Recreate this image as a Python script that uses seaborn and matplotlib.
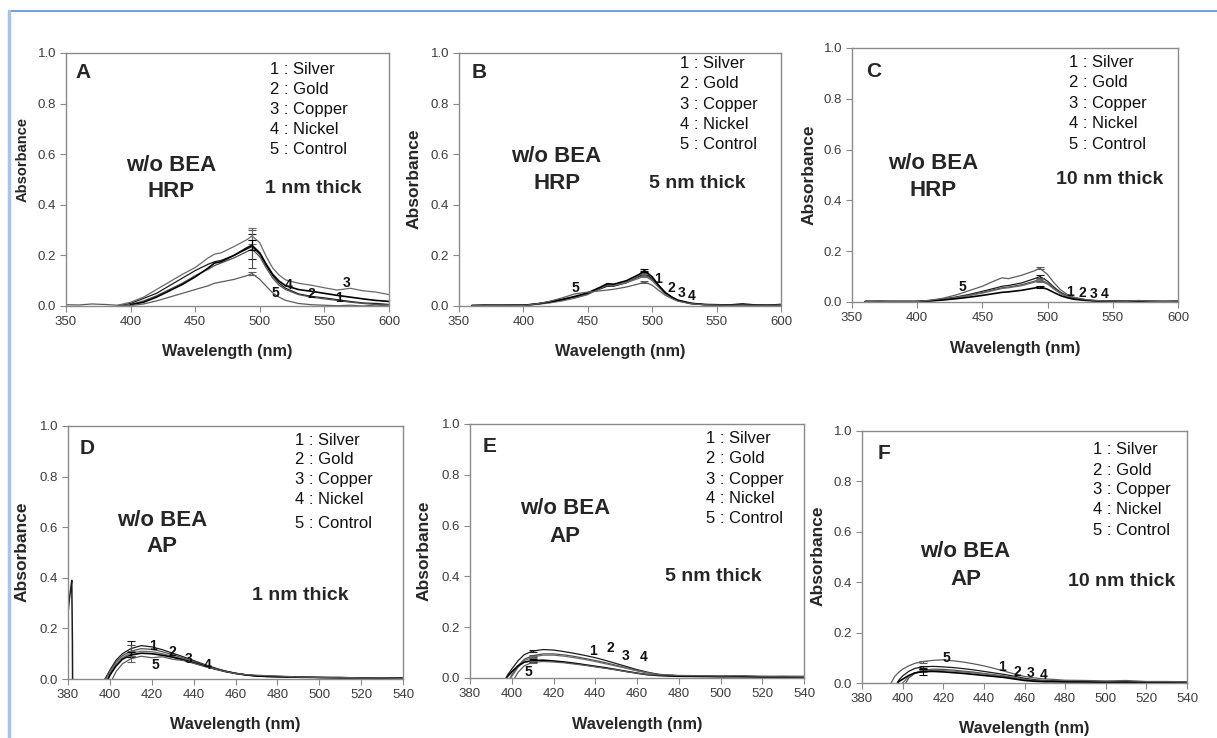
import numpy as np
import pandas as pd
import matplotlib
matplotlib.use("Agg")
import matplotlib.pyplot as plt
from matplotlib.lines import Line2D
import seaborn as sns

nan = np.nan

# ---------------------------------------------------------------- data
metals = ["Silver", "Gold", "Copper", "Nickel", "Control"]
legend_lines = ["1 : Silver", "2 : Gold", "3 : Copper", "4 : Nickel", "5 : Control"]
curve_tags = ["1", "2", "3", "4", "5"]

# HRP assay (TMB read-out), wavelength grid in nm
wl_hrp = [350, 360, 370, 380, 390, 400, 410, 420, 430, 440, 450, 460, 465, 470, 480,
          490, 494, 500, 505, 510, 515, 520, 530, 540, 550, 560, 570, 580, 590, 600]

# A: 1 nm thick
a_silver = [nan, nan, nan, nan, 0.000, 0.010, 0.030, 0.050, 0.080, 0.110, 0.140, 0.165, 0.175, 0.180, 0.200,
            0.225, 0.235, 0.205, 0.160, 0.120, 0.090, 0.070, 0.048, 0.038, 0.032, 0.025, 0.018, 0.012, 0.010, 0.006]
a_gold = [nan, nan, nan, nan, 0.000, 0.005, 0.020, 0.040, 0.065, 0.090, 0.120, 0.145, 0.160, 0.170, 0.190,
          0.215, 0.225, 0.195, 0.150, 0.110, 0.082, 0.065, 0.045, 0.035, 0.028, 0.022, 0.015, 0.010, 0.006, 0.005]
a_copper = [nan, nan, nan, nan, 0.003, 0.015, 0.035, 0.065, 0.095, 0.125, 0.152, 0.190, 0.205, 0.210, 0.235,
            0.262, 0.277, 0.250, 0.195, 0.150, 0.122, 0.103, 0.090, 0.082, 0.072, 0.063, 0.070, 0.060, 0.055, 0.045]
a_nickel = [nan, nan, nan, nan, nan, 0.005, 0.015, 0.035, 0.060, 0.085, 0.115, 0.150, 0.170, 0.175, 0.200,
            0.230, 0.240, 0.210, 0.165, 0.125, 0.098, 0.080, 0.065, 0.058, 0.050, 0.042, 0.035, 0.028, 0.022, 0.018]
a_control = [0.005, 0.004, 0.008, 0.006, 0.003, 0.002, 0.008, 0.020, 0.035, 0.050, 0.065, 0.080, 0.090, 0.095, 0.105,
             0.120, 0.128, 0.105, 0.078, 0.052, 0.035, 0.022, 0.010, 0.005, 0.003, 0.001, 0.003, 0.000, 0.004, 0.000]
a_err = [0.050, 0.075, 0.030, 0.020, 0.005]

# B: 5 nm thick
b_silver = [nan, 0.002, 0.003, 0.002, 0.003, 0.003, 0.008, 0.015, 0.025, 0.036, 0.050, 0.068, 0.078, 0.078, 0.092,
            0.118, 0.130, 0.108, 0.078, 0.052, 0.035, 0.022, 0.010, 0.006, 0.004, 0.004, 0.005, 0.003, 0.004, 0.005]
b_gold = [nan, 0.001, 0.002, 0.002, 0.002, 0.003, 0.007, 0.013, 0.022, 0.033, 0.047, 0.070, 0.082, 0.080, 0.094,
          0.115, 0.125, 0.104, 0.076, 0.050, 0.033, 0.021, 0.010, 0.006, 0.004, 0.004, 0.004, 0.003, 0.003, 0.004]
b_copper = [nan, 0.002, 0.002, 0.003, 0.002, 0.002, 0.006, 0.012, 0.020, 0.031, 0.045, 0.072, 0.085, 0.082, 0.092,
            0.110, 0.120, 0.100, 0.074, 0.049, 0.032, 0.020, 0.009, 0.005, 0.004, 0.003, 0.004, 0.003, 0.003, 0.004]
b_nickel = [nan, 0.002, 0.003, 0.003, 0.003, 0.003, 0.008, 0.016, 0.026, 0.038, 0.052, 0.075, 0.088, 0.086, 0.100,
            0.125, 0.140, 0.115, 0.082, 0.054, 0.036, 0.023, 0.011, 0.006, 0.005, 0.004, 0.008, 0.004, 0.003, 0.006]
b_control = [nan, 0.001, 0.002, 0.002, 0.002, 0.002, 0.008, 0.018, 0.032, 0.048, 0.055, 0.060, 0.063, 0.066, 0.075,
             0.088, 0.095, 0.082, 0.062, 0.043, 0.030, 0.019, 0.009, 0.005, 0.004, 0.003, 0.004, 0.003, 0.003, 0.004]
b_err = [0.008, 0.006, 0.005, 0.006, 0.004]

# C: 10 nm thick
c_silver = [nan, 0.002, 0.003, 0.002, 0.002, 0.002, 0.006, 0.012, 0.020, 0.030, 0.042, 0.055, 0.062, 0.065, 0.075,
            0.092, 0.100, 0.082, 0.058, 0.038, 0.025, 0.016, 0.008, 0.004, 0.003, 0.003, 0.004, 0.003, 0.002, 0.003]
c_gold = [nan, 0.002, 0.002, 0.002, 0.002, 0.002, 0.006, 0.011, 0.018, 0.027, 0.038, 0.050, 0.056, 0.059, 0.068,
          0.082, 0.089, 0.074, 0.053, 0.035, 0.023, 0.015, 0.007, 0.004, 0.003, 0.003, 0.003, 0.002, 0.002, 0.003]
c_copper = [nan, 0.002, 0.002, 0.002, 0.002, 0.002, 0.005, 0.010, 0.017, 0.025, 0.035, 0.047, 0.053, 0.056, 0.064,
            0.078, 0.084, 0.070, 0.050, 0.033, 0.022, 0.014, 0.007, 0.004, 0.003, 0.003, 0.003, 0.002, 0.002, 0.003]
c_nickel = [nan, 0.002, 0.002, 0.002, 0.002, 0.002, 0.004, 0.008, 0.013, 0.019, 0.026, 0.034, 0.038, 0.040, 0.046,
            0.055, 0.060, 0.050, 0.037, 0.025, 0.017, 0.011, 0.006, 0.003, 0.003, 0.002, 0.003, 0.002, 0.002, 0.002]
c_control = [nan, 0.002, 0.003, 0.002, 0.002, 0.002, 0.007, 0.015, 0.028, 0.045, 0.062, 0.085, 0.095, 0.092, 0.105,
             0.123, 0.133, 0.108, 0.075, 0.048, 0.030, 0.019, 0.009, 0.005, 0.004, 0.003, 0.006, 0.003, 0.002, 0.003]
c_err = [0.006, 0.005, 0.006, 0.004, 0.005]

# AP assay (pNPP read-out), wavelength grid in nm
wl_ap = [393, 396, 398, 400, 403, 406, 410, 415, 420, 425, 430, 435, 440, 445, 450,
         455, 460, 465, 470, 475, 480, 490, 500, 510, 520, 530, 540]

# D: 1 nm thick
d_silver = [nan, -0.020, 0.005, 0.035, 0.075, 0.100, 0.120, 0.132, 0.127, 0.116, 0.102, 0.088, 0.073, 0.058, 0.044,
            0.032, 0.023, 0.017, 0.013, 0.011, 0.010, 0.008, 0.006, 0.005, 0.005, 0.004, 0.005]
d_gold = [nan, -0.020, 0.000, 0.030, 0.068, 0.092, 0.110, 0.120, 0.117, 0.108, 0.096, 0.083, 0.069, 0.055, 0.042,
          0.031, 0.022, 0.016, 0.012, 0.010, 0.009, 0.008, 0.006, 0.005, 0.004, 0.004, 0.004]
d_copper = [nan, nan, -0.020, 0.022, 0.060, 0.085, 0.102, 0.110, 0.108, 0.100, 0.090, 0.079, 0.066, 0.053, 0.041,
            0.030, 0.022, 0.016, 0.012, 0.010, 0.009, 0.007, 0.006, 0.005, 0.004, 0.004, 0.004]
d_nickel = [nan, nan, -0.020, 0.015, 0.052, 0.078, 0.095, 0.102, 0.100, 0.094, 0.086, 0.076, 0.064, 0.052, 0.040,
            0.030, 0.022, 0.016, 0.012, 0.010, 0.009, 0.007, 0.006, 0.005, 0.004, 0.004, 0.004]
d_control = [nan, nan, nan, -0.020, 0.030, 0.060, 0.080, 0.090, 0.084, 0.088, 0.078, 0.073, 0.062, 0.050, 0.040,
             0.030, 0.022, 0.017, 0.015, 0.013, 0.012, 0.008, 0.006, 0.007, 0.004, 0.005, 0.003]
d_err = [0.030, 0.025, 0.010, 0.010, 0.012]
# instrument spike at the start of the Silver scan
d_spike_wl = [380.0, 380.7, 381.2, 381.8, 382.1, 382.2]
d_spike_abs = [0.26, 0.32, 0.35, 0.39, 0.15, -0.02]

# E: 5 nm thick
e_silver = [nan, -0.020, 0.012, 0.035, 0.068, 0.092, 0.106, 0.112, 0.110, 0.104, 0.097, 0.089, 0.080, 0.069, 0.057,
            0.045, 0.033, 0.023, 0.015, 0.011, 0.009, 0.007, 0.006, 0.007, 0.005, 0.006, 0.006]
e_gold = [nan, nan, -0.020, 0.012, 0.048, 0.074, 0.088, 0.095, 0.095, 0.091, 0.085, 0.077, 0.069, 0.060, 0.050,
          0.040, 0.030, 0.021, 0.014, 0.011, 0.009, 0.008, 0.007, 0.006, 0.006, 0.005, 0.006]
e_copper = [nan, nan, -0.020, 0.006, 0.042, 0.068, 0.083, 0.090, 0.090, 0.086, 0.080, 0.073, 0.065, 0.056, 0.047,
            0.038, 0.028, 0.020, 0.013, 0.010, 0.009, 0.007, 0.006, 0.006, 0.005, 0.005, 0.005]
e_nickel = [nan, -0.020, 0.006, 0.024, 0.048, 0.062, 0.069, 0.070, 0.067, 0.063, 0.058, 0.052, 0.046, 0.040, 0.033,
            0.026, 0.019, 0.013, 0.010, 0.008, 0.007, 0.006, 0.005, 0.005, 0.004, 0.004, 0.004]
e_control = [nan, nan, nan, -0.020, 0.022, 0.048, 0.062, 0.065, 0.063, 0.060, 0.055, 0.050, 0.044, 0.038, 0.032,
             0.025, 0.019, 0.014, 0.012, 0.012, 0.010, 0.009, 0.008, 0.009, 0.007, 0.007, 0.006]
e_err = [0.004, 0.004, 0.004, 0.006, 0.004]

# F: 10 nm thick
f_silver = [nan, -0.020, 0.010, 0.028, 0.046, 0.058, 0.064, 0.066, 0.064, 0.061, 0.057, 0.052, 0.046, 0.040, 0.034,
            0.027, 0.019, 0.013, 0.010, 0.009, 0.008, 0.007, 0.006, 0.005, 0.005, 0.004, 0.004]
f_gold = [nan, nan, nan, -0.020, 0.020, 0.038, 0.050, 0.055, 0.054, 0.051, 0.047, 0.043, 0.038, 0.033, 0.028,
          0.022, 0.015, 0.010, 0.008, 0.007, 0.007, 0.006, 0.005, 0.005, 0.004, 0.004, 0.004]
f_copper = [nan, nan, -0.020, 0.000, 0.025, 0.040, 0.048, 0.050, 0.049, 0.047, 0.044, 0.040, 0.036, 0.031, 0.026,
            0.020, 0.013, 0.009, 0.007, 0.006, 0.006, 0.005, 0.005, 0.004, 0.004, 0.003, 0.003]
f_nickel = [nan, -0.020, 0.005, 0.015, 0.030, 0.040, 0.045, 0.046, 0.044, 0.041, 0.038, 0.034, 0.030, 0.026, 0.022,
            0.016, 0.010, 0.007, 0.005, 0.005, 0.004, 0.004, 0.003, 0.003, 0.003, 0.003, 0.003]
f_control = [-0.020, 0.025, 0.042, 0.055, 0.068, 0.078, 0.085, 0.090, 0.092, 0.088, 0.083, 0.076, 0.068, 0.058, 0.047,
             0.036, 0.026, 0.020, 0.016, 0.014, 0.011, 0.010, 0.008, 0.010, 0.006, 0.006, 0.005]
f_err = [0.004, 0.004, 0.004, 0.012, 0.004]

hrp_xticks = [350, 400, 450, 500, 550, 600]
ap_xticks = [380, 400, 420, 440, 460, 480, 500, 520, 540]
y_ticks = [0.0, 0.2, 0.4, 0.6, 0.8, 1.0]

# ---------------------------------------------------------------- style
sns.set_style("ticks")
plt.rcParams["font.family"] = ["Liberation Sans", "DejaVu Sans"]

W, H = 1217, 738
fig = plt.figure(figsize=(W / 100, H / 100), dpi=100)

line_colors = ["#1c1c1c", "#505050", "#6a6a6a", "#000000", "#5c5c5c"]
line_widths = [0.9, 0.9, 0.9, 1.2, 0.9]
frame_color = "#8a8a8a"
tick_text = "#3c3c3c"

panels = [
    dict(letter="A", box=(66, 53, 389, 306), wl=wl_hrp, series=[a_silver, a_gold, a_copper, a_nickel, a_control],
         err=a_err, err_at=494, xlim=(350, 600), xticks=hrp_xticks, enzyme="HRP", thick="1 nm thick",
         letter_xy=(0.053, 0.921), legend_x=0.632, legend_y=[0.936, 0.857, 0.778, 0.699, 0.620],
         bea_xy=(0.325, 0.557, 0.452), thick_xy=(0.765, 0.466), ylab_x=23, ylab_y=160, ylab_size=10.5,
         tags=[(561.3, 0.030), (540.2, 0.046), (567.3, 0.092), (522.0, 0.083), (511.8, 0.050)]),
    dict(letter="B", box=(459, 53, 781, 306), wl=wl_hrp, series=[b_silver, b_gold, b_copper, b_nickel, b_control],
         err=b_err, err_at=494, xlim=(350, 600), xticks=hrp_xticks, enzyme="HRP", thick="5 nm thick",
         letter_xy=(0.062, 0.921), legend_x=0.686, legend_y=[0.960, 0.881, 0.798, 0.718, 0.639],
         bea_xy=(0.303, 0.590, 0.485), thick_xy=(0.741, 0.485), ylab_x=414, ylab_y=179, ylab_size=12.5,
         tags=[(504.3, 0.105), (515.1, 0.070), (522.9, 0.050), (530.6, 0.041), (440.1, 0.070)]),
    dict(letter="C", box=(852, 48, 1178, 302), wl=wl_hrp, series=[c_silver, c_gold, c_copper, c_nickel, c_control],
         err=c_err, err_at=494, xlim=(350, 600), xticks=hrp_xticks, enzyme="HRP", thick="10 nm thick",
         letter_xy=(0.065, 0.907), legend_x=0.667, legend_y=[0.942, 0.863, 0.782, 0.704, 0.622],
         bea_xy=(0.249, 0.546, 0.438), thick_xy=(0.789, 0.483), ylab_x=809, ylab_y=175, ylab_size=12.5,
         tags=[(517.2, 0.038), (526.9, 0.034), (535.0, 0.030), (544.0, 0.030), (434.6, 0.060)]),
    dict(letter="D", box=(68, 426, 403, 679), wl=wl_ap, series=[d_silver, d_gold, d_copper, d_nickel, d_control],
         err=d_err, err_at=410, xlim=(380, 540), xticks=ap_xticks, enzyme="AP", thick="1 nm thick",
         letter_xy=(0.058, 0.911), legend_x=0.678, legend_y=[0.944, 0.866, 0.787, 0.708, 0.616],
         bea_xy=(0.281, 0.628, 0.523), thick_xy=(0.693, 0.332), ylab_x=22, ylab_y=552, ylab_size=12.5,
         tags=[(420.8, 0.129), (429.8, 0.107), (437.5, 0.079), (446.5, 0.057), (421.6, 0.057)]),
    dict(letter="E", box=(470, 424, 804, 678), wl=wl_ap, series=[e_silver, e_gold, e_copper, e_nickel, e_control],
         err=e_err, err_at=410, xlim=(380, 540), xticks=ap_xticks, enzyme="AP", thick="5 nm thick",
         letter_xy=(0.058, 0.913), legend_x=0.707, legend_y=[0.943, 0.865, 0.783, 0.707, 0.629],
         bea_xy=(0.284, 0.668, 0.559), thick_xy=(0.728, 0.399), ylab_x=424, ylab_y=551, ylab_size=12.5,
         tags=[(438.8, 0.107), (447.1, 0.117), (454.3, 0.087), (463.0, 0.084), (407.9, 0.025)]),
    dict(letter="F", box=(862, 431, 1187, 683), wl=wl_ap, series=[f_silver, f_gold, f_copper, f_nickel, f_control],
         err=f_err, err_at=410, xlim=(380, 540), xticks=ap_xticks, enzyme="AP", thick="10 nm thick",
         letter_xy=(0.068, 0.912), legend_x=0.712, legend_y=[0.925, 0.845, 0.766, 0.687, 0.607],
         bea_xy=(0.319, 0.521, 0.411), thick_xy=(0.799, 0.402), ylab_x=818, ylab_y=556, ylab_size=12.5,
         tags=[(448.8, 0.065), (456.5, 0.045), (463.1, 0.041), (469.6, 0.032), (421.7, 0.098)]),
]


def draw_panel(p):
    l, t, r, b = p["box"]
    w_px, h_px = r - l, b - t
    ax = fig.add_axes([l / W, 1 - b / H, w_px / W, h_px / H])

    for k, name in enumerate(metals):
        df = pd.DataFrame({"Wavelength": p["wl"], "Absorbance": p["series"][k]})
        sns.lineplot(data=df, x="Wavelength", y="Absorbance", ax=ax, color=line_colors[k],
                     linewidth=line_widths[k], estimator=None, legend=False)
        j = p["wl"].index(p["err_at"])
        ax.errorbar(p["err_at"], p["series"][k][j], yerr=p["err"][k], fmt="none",
                    ecolor=line_colors[k], elinewidth=0.8, capsize=3, capthick=0.8)

    if p["letter"] == "D":
        spike = pd.DataFrame({"Wavelength": d_spike_wl, "Absorbance": d_spike_abs})
        sns.lineplot(data=spike, x="Wavelength", y="Absorbance", ax=ax, color=line_colors[0],
                     linewidth=1.1, estimator=None, legend=False, sort=False)

    ax.set_xlim(*p["xlim"])
    ax.set_ylim(0, 1.0)
    ax.set_xticks(p["xticks"])
    ax.set_xticklabels([str(v) for v in p["xticks"]])
    ax.set_yticks(y_ticks)
    ax.set_yticklabels([f"{v:.1f}" for v in y_ticks])
    ax.tick_params(direction="out", length=4, width=0.8, color=frame_color,
                   labelsize=9.5, labelcolor=tick_text, pad=3)
    for s in ax.spines.values():
        s.set_visible(True)
        s.set_color(frame_color)
        s.set_linewidth(1.0)

    ax.set_xlabel("Wavelength (nm)", fontsize=11.7, fontweight="bold", va="center")
    ax.xaxis.set_label_coords(0.5, -46 / h_px)
    ax.set_ylabel("Absorbance", fontsize=p["ylab_size"], fontweight="bold", va="center")
    ax.yaxis.set_label_coords((p["ylab_x"] - l) / w_px, (b - p["ylab_y"]) / h_px)

    tr = ax.transAxes
    ax.text(*p["letter_xy"], p["letter"], transform=tr, fontsize=15, fontweight="bold",
            ha="center", va="center")
    for s, yy in zip(legend_lines, p["legend_y"]):
        ax.text(p["legend_x"], yy, s, transform=tr, fontsize=12, ha="left", va="center", color="#111111")
    bx, by1, by2 = p["bea_xy"]
    ax.text(bx, by1, "w/o BEA", transform=tr, fontsize=16, fontweight="bold", ha="center", va="center")
    ax.text(bx, by2, p["enzyme"], transform=tr, fontsize=16, fontweight="bold", ha="center", va="center")
    ax.text(*p["thick_xy"], p["thick"], transform=tr, fontsize=14, fontweight="bold",
            ha="center", va="center")
    for tag, (tx, ty) in zip(curve_tags, p["tags"]):
        ax.text(tx, ty, tag, fontsize=10, fontweight="bold", ha="center", va="center", color="#111111")
    return ax


for p in panels:
    draw_panel(p)

# page frame
fig.add_artist(Line2D([9 / W, 1.0], [1 - 10.5 / H, 1 - 10.5 / H], transform=fig.transFigure,
                      color="#5b8fd6", linewidth=1.2))
fig.add_artist(Line2D([9 / W, 9 / W], [0.0, 1 - 10.5 / H], transform=fig.transFigure,
                      color="#aac3e6", linewidth=2.5))

fig.savefig("out.png", dpi=100)
